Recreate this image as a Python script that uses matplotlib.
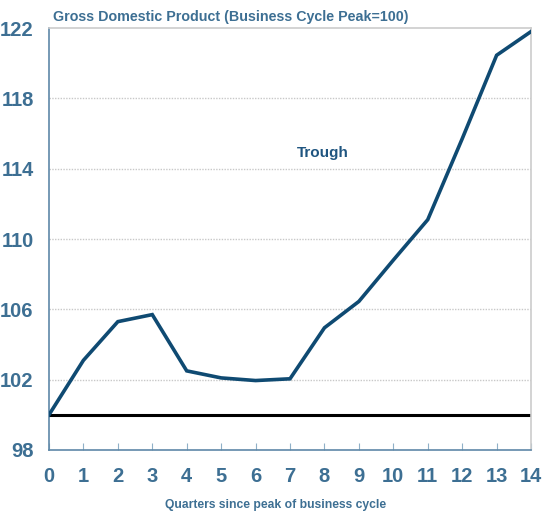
import matplotlib.pyplot as plt

plt.rcParams['font.family'] = ['Liberation Sans', 'DejaVu Sans']
plt.rcParams['font.weight'] = 'bold'

quarters = list(range(15))
gdp = [100.0, 103.1, 105.3, 105.7, 102.5, 102.1, 101.95, 102.05,
       104.95, 106.45, 108.8, 111.1, 115.7, 120.45, 121.8]
y_ticks = [98, 102, 106, 110, 114, 118, 122]
baseline = 100

txt = '#3d6f93'
line_c = '#0f4a72'

fig = plt.figure(figsize=(5.43, 5.17), dpi=100)
ax = fig.add_axes([0.0902, 0.1296, 0.8878, 0.8162])

ax.plot(quarters, gdp, color=line_c, lw=2.6, solid_joinstyle='miter', zorder=3)
ax.axhline(baseline, color='black', lw=2.2, zorder=2)

ax.set_xlim(0, 14)
ax.set_ylim(98, 122)
ax.set_xticks(quarters)
ax.set_yticks(y_ticks)

for v in y_ticks[1:-1]:
    ax.axhline(v, color='#c8c8c8', lw=1, ls=(0, (1, 1)), zorder=1)

for s in ['left', 'bottom']:
    ax.spines[s].set_color('#5f88a8')
    ax.spines[s].set_linewidth(1.2)
for s in ['top', 'right']:
    ax.spines[s].set_color('#cccccc')
    ax.spines[s].set_linewidth(1.2)

ax.tick_params(axis='x', direction='in', length=5, color='#8fb0c8',
               labelsize=14.5, labelcolor=txt, pad=12)
ax.tick_params(axis='y', length=0, labelsize=14.5, labelcolor=txt, pad=11)

ax.set_xlabel('Quarters since peak of business cycle', fontsize=8.7,
              fontweight='bold', color=txt, labelpad=9)
ax.xaxis.set_label_coords(0.47, -0.115)
fig.text(0.097, 0.968, 'Gross Domestic Product (Business Cycle Peak=100)',
         fontsize=10.3, fontweight='bold', color=txt, va='center', ha='left')
ax.text(7.2, 114.9, 'Trough', fontsize=11, fontweight='bold',
        color='#1f5580', va='center', ha='left')

fig.savefig('out.png', dpi=100)
